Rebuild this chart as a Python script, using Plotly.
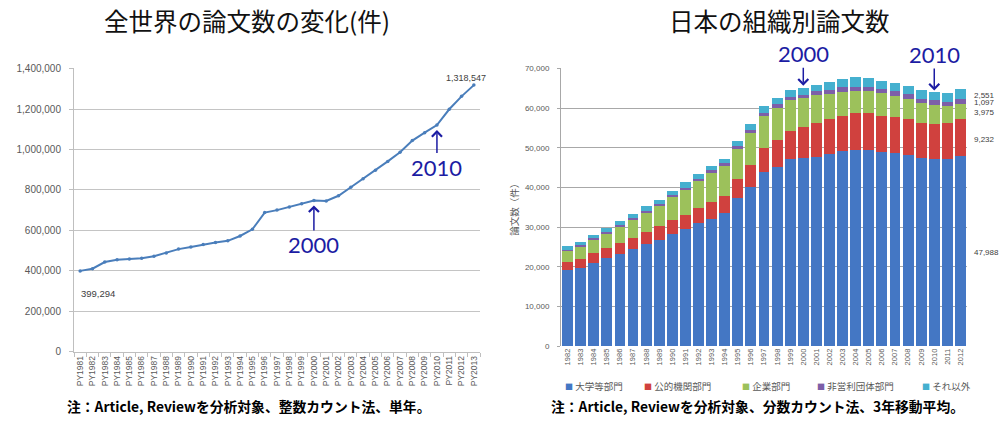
import plotly.graph_objects as go

# ---- world: annual number of papers (Article, Review; whole counting) ----
world_years = ["PY1981", "PY1982", "PY1983", "PY1984", "PY1985", "PY1986", "PY1987",
               "PY1988", "PY1989", "PY1990", "PY1991", "PY1992", "PY1993", "PY1994",
               "PY1995", "PY1996", "PY1997", "PY1998", "PY1999", "PY2000", "PY2001",
               "PY2002", "PY2003", "PY2004", "PY2005", "PY2006", "PY2007", "PY2008",
               "PY2009", "PY2010", "PY2011", "PY2012", "PY2013"]
world_papers = [399294, 410000, 443000, 454000, 458000, 462000, 472000,
                488000, 507000, 518000, 530000, 540000, 548000, 572000,
                605000, 688000, 700000, 716000, 732000, 748000, 745000,
                771000, 813000, 855000, 897000, 941000, 986000, 1044000,
                1083000, 1121000, 1199000, 1263000, 1318547]

# ---- Japan: papers by sector (fractional counting, 3-year moving average) ----
jp_years = ["1982", "1983", "1984", "1985", "1986", "1987", "1988", "1989", "1990",
            "1991", "1992", "1993", "1994", "1995", "1996", "1997", "1998", "1999",
            "2000", "2001", "2002", "2003", "2004", "2005", "2006", "2007", "2008",
            "2009", "2010", "2011", "2012"]
univ = [19100, 19800, 21000, 22200, 23200, 24400, 25700, 26900, 28300,
        29500, 31000, 32200, 33700, 37300, 40200, 43900, 45100, 47200,
        47500, 47800, 48600, 49200, 49600, 49400, 49000, 48800, 48200,
        47400, 47200, 47200, 47988]
public = [2100, 2300, 2400, 2500, 2800, 2950, 3200, 3400, 3550,
          3700, 3850, 4100, 4300, 4800, 5600, 6100, 7000, 7100,
          7900, 8600, 8800, 8800, 9200, 9400, 9000, 9100, 9000,
          9000, 8900, 9000, 9232]
corp = [2800, 3100, 3500, 3700, 4100, 4500, 4700, 5000, 5700,
        6200, 6800, 7400, 7400, 7600, 7900, 8000, 8000, 7700,
        7100, 6900, 6200, 6200, 5600, 5500, 5800, 5300, 5200,
        4900, 4800, 4300, 3975]
nonprofit = [300, 300, 350, 400, 400, 450, 500, 500, 550,
             600, 600, 650, 700, 750, 800, 850, 900, 900,
             950, 1000, 1000, 1050, 1050, 1100, 1100, 1100, 1100,
             1100, 1100, 1100, 1097]
other = [1000, 900, 850, 1100, 1000, 950, 1200, 1200, 1150,
         1300, 1200, 1050, 1200, 1350, 1500, 1650, 1500, 1700,
         1750, 1700, 2000, 2150, 2450, 2200, 2100, 2100, 2100,
         2200, 2000, 2300, 2551]

sector_names = ["大学等部門", "公的機関部門", "企業部門", "非営利団体部門", "それ以外"]
sector_values = [univ, public, corp, nonprofit, other]
sector_colors = ["#4477c4", "#d0413e", "#9cc15b", "#7d5fa8", "#45b0cf"]

TICK_FONT = "Liberation Sans, Arial, sans-serif"
JP_FONT = "Noto Sans CJK JP, sans-serif"
MARK_BLUE = "#1c1ca3"
TEXT_GRAY = "#595959"

fig = go.Figure()

fig.add_trace(go.Scatter(
    x=world_years, y=world_papers, xaxis="x", yaxis="y",
    mode="lines+markers", line=dict(color="#4a7ebb", width=2),
    marker=dict(size=3.5, color="#4a7ebb"), showlegend=False,
    hoverinfo="x+y"))

for name, vals, color in zip(sector_names, sector_values, sector_colors):
    fig.add_trace(go.Bar(
        x=jp_years, y=vals, name=name, xaxis="x2", yaxis="y2",
        marker=dict(color=color, line=dict(width=0)), showlegend=False))

annotations = []


def paper_text(text, x, y, size, bold=False, color="#111111", anchor="center"):
    return dict(text=f"<b>{text}</b>" if bold else text, x=x, y=y,
                xref="paper", yref="paper", xanchor=anchor, yanchor="middle",
                showarrow=False, font=dict(family=JP_FONT, size=size, color=color))


# chart titles
annotations.append(paper_text("全世界の論文数の変化(件)", 0.247, (421 - 16) / 421, 24.5))
annotations.append(paper_text("日本の組織別論文数", 0.779, (421 - 16) / 421, 24.5))

# notes under each chart
annotations.append(paper_text("注：Article, Reviewを分析対象、整数カウント法、単年。",
                              0.248, (421 - 411) / 421, 13.8, bold=True, color="#000000"))
annotations.append(paper_text("注：Article, Reviewを分析対象、分数カウント法、3年移動平均。",
                              0.757, (421 - 411) / 421, 13.8, bold=True, color="#000000"))

# end-point labels on the world line
annotations.append(dict(text=f"{world_papers[0]:,}", x=0, y=world_papers[0],
                        xref="x", yref="y", showarrow=False, xanchor="left", yshift=-23, xshift=-1,
                        font=dict(family=TICK_FONT, size=9.5, color="#404040")))
annotations.append(dict(text=f"{world_papers[-1]:,}", x=len(world_years) - 1, y=world_papers[-1],
                        xref="x", yref="y", showarrow=False, xanchor="center", yshift=7, xshift=-8,
                        font=dict(family=TICK_FONT, size=9, color="#404040")))

# year markers on the world line
for yr, ay in (("PY2000", 44), ("PY2010", 42)):
    i = world_years.index(yr)
    annotations.append(dict(text=yr[2:], x=i, y=world_papers[i],
                            xref="x", yref="y", ax=0, ay=ay, showarrow=True,
                            arrowhead=4, arrowsize=1.3, arrowwidth=1.5, arrowcolor=MARK_BLUE,
                            standoff=5, borderpad=0,
                            font=dict(family="Lato, sans-serif", size=22, color=MARK_BLUE)))

# year markers on the Japan bars
totals = [sum(v[i] for v in sector_values) for i in range(len(jp_years))]
for yr, ay in (("2000", -34), ("2010", -38)):
    i = jp_years.index(yr)
    annotations.append(dict(text=yr, x=i, y=totals[i],
                            xref="x2", yref="y2", ax=0, ay=ay, showarrow=True,
                            arrowhead=4, arrowsize=1.3, arrowwidth=1.5, arrowcolor=MARK_BLUE,
                            standoff=2, borderpad=0,
                            font=dict(family="Lato, sans-serif", size=22, color=MARK_BLUE)))

# segment values for the last year
cum = 0
last = len(jp_years) - 1
for vals in sector_values:
    v = vals[-1]
    annotations.append(dict(text=f"{v:,}", x=last, y=cum + v / 2,
                            xref="x2", yref="y2", showarrow=False, xanchor="left",
                            xshift=12, yshift=-1.5,
                            font=dict(family=TICK_FONT, size=8, color="#404040")))
    cum += v

# sector key below the bar chart
key_x = [563, 642, 740, 815, 920]
for name, color, px in zip(sector_names, sector_colors, key_x):
    annotations.append(dict(text=f'<span style="color:{color};font-size:8px">■</span> {name}',
                            x=px / 1000, y=(421 - 390) / 421, xref="paper", yref="paper",
                            xanchor="left", yanchor="middle", showarrow=False,
                            font=dict(family=JP_FONT, size=9.5, color=TEXT_GRAY)))

fig.update_layout(
    width=1000, height=421,
    margin=dict(l=0, r=0, t=0, b=0),
    paper_bgcolor="white", plot_bgcolor="white",
    barmode="stack", bargap=0.17,
    annotations=annotations,
    xaxis=dict(domain=[0.074, 0.480], type="category", range=[-0.5, 32.5],
               tickangle=-90, tickfont=dict(family=TICK_FONT, size=8.5, color=TEXT_GRAY),
               showline=True, linecolor="#bfbfbf", ticks="outside", ticklen=4,
               tickcolor="#bfbfbf", tickson="boundaries", showgrid=False, anchor="y"),
    yaxis=dict(domain=[(421 - 355) / 421, (421 - 65) / 421], range=[0, 1401000],
               dtick=200000, tickformat=",d", gridcolor="#c4c4c4", gridwidth=1,
               showline=True, linecolor="#bfbfbf", ticks="outside", ticklen=4,
               tickcolor="#bfbfbf", zeroline=False, ticklabelstandoff=6,
               tickfont=dict(family=TICK_FONT, size=10, color=TEXT_GRAY), anchor="x"),
    xaxis2=dict(domain=[0.561, 0.967], type="category", range=[-0.5, 30.5],
                tickangle=-90, tickfont=dict(family=TICK_FONT, size=7.5, color=TEXT_GRAY),
                showline=False, ticks="", showgrid=False, anchor="y2"),
    yaxis2=dict(domain=[(421 - 349.5) / 421, (421 - 64.8) / 421], range=[0, 70100],
                dtick=10000, tickformat=",d", gridcolor="#a8a8a8", gridwidth=1,
                showline=True, linecolor="#a8a8a8", ticks="outside", ticklen=3,
                tickcolor="#a8a8a8", zeroline=False, ticklabelstandoff=6,
                tickfont=dict(family=TICK_FONT, size=8, color=TEXT_GRAY),
                title=dict(text="論文数（件）", standoff=4,
                           font=dict(family=JP_FONT, size=9.5, color=TEXT_GRAY)),
                anchor="x2"),
)

fig.write_html("out.html")
